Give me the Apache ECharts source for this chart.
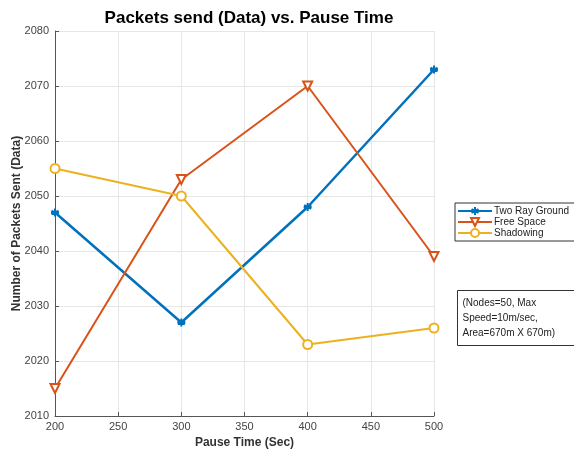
<!DOCTYPE html>
<html><head><meta charset="utf-8">
<script src="https://cdn.jsdelivr.net/npm/echarts@6/dist/echarts.min.js"></script>
<style>html,body{margin:0;padding:0;background:#fff}#c{width:574px;height:452px}</style>
</head><body><div id="c"></div>
<script>
const pauseTimes = [200, 300, 400, 500];
const twoRayGround = [2047, 2027, 2048, 2073];
const freeSpace = [2015, 2053, 2070, 2039];
const shadowing = [2055, 2050, 2023, 2026];
const seriesNames = ['Two Ray Ground', 'Free Space', 'Shadowing'];
const noteLines = ['(Nodes=50, Max', 'Speed=10m/sec,', 'Area=670m X 670m)'];

const FONT = '"Liberation Sans", Arial, sans-serif';
const chart = echarts.init(document.getElementById('c'));
const pair = arr => pauseTimes.map((x, i) => [x, arr[i]]);
const asterisk = 'path://M0,-5L0,5M-4.33,-2.5L4.33,2.5M-4.33,2.5L4.33,-2.5M-5,0L5,0';

chart.setOption({
  animation: false,
  backgroundColor: '#fff',
  title: {
    text: 'Packets send (Data) vs. Pause Time',
    left: 244, textAlign: 'center', top: 5,
    textStyle: {fontFamily: FONT, fontSize: 17, fontWeight: 'bold', color: '#000'}
  },
  grid: {left: 55, right: 140, top: 31, bottom: 36, containLabel: false, outerBoundsMode: 'none'},
  xAxis: {
    type: 'value', min: 200, max: 500, interval: 50,
    name: 'Pause Time (Sec)', nameLocation: 'middle', nameGap: 21,
    nameTextStyle: {fontFamily: FONT, fontSize: 12, fontWeight: 'bold', color: '#333'},
    axisLine: {onZero: false, lineStyle: {color: '#555', width: 1}},
    axisTick: {inside: true, length: 4, lineStyle: {color: '#555'}},
    axisLabel: {fontFamily: FONT, fontSize: 11, color: '#444', margin: 5},
    splitLine: {show: true, lineStyle: {color: '#e6e6e6'}}
  },
  yAxis: {
    type: 'value', min: 2010, max: 2080, interval: 10,
    name: 'Number of Packets Sent (Data)', nameLocation: 'middle', nameGap: 32, nameRotate: 90,
    nameMoveOverlap: false,
    nameTextStyle: {fontFamily: FONT, fontSize: 12, fontWeight: 'bold', color: '#333'},
    axisLine: {show: true, onZero: false, lineStyle: {color: '#555', width: 1}},
    axisTick: {show: true, inside: true, length: 4, lineStyle: {color: '#555'}},
    axisLabel: {fontFamily: FONT, fontSize: 11, color: '#444', margin: 6, formatter: v => String(v)},
    splitLine: {show: true, lineStyle: {color: '#e6e6e6'}}
  },
  legend: {
    orient: 'vertical', left: 455, top: 203,
    data: seriesNames,
    backgroundColor: '#fff', borderColor: '#333', borderWidth: 1,
    padding: [3, 10, 3, 2], itemGap: 1, itemWidth: 34, itemHeight: 10,
    textStyle: {fontFamily: FONT, fontSize: 10, color: '#222', padding: [0, 0, 0, -3]}
  },
  series: [
    {name: seriesNames[0], type: 'line', data: pair(twoRayGround), color: '#0072BD',
     symbol: asterisk, symbolSize: 8,
     itemStyle: {color: '#0072BD', borderColor: '#0072BD', borderWidth: 2},
     lineStyle: {color: '#0072BD', width: 2.5}},
    {name: seriesNames[1], type: 'line', data: pair(freeSpace), color: '#D95319',
     symbol: 'emptyTriangle', symbolRotate: 180, symbolSize: 9,
     itemStyle: {color: '#D95319', borderWidth: 2},
     lineStyle: {color: '#D95319', width: 2}},
    {name: seriesNames[2], type: 'line', data: pair(shadowing), color: '#EDB120',
     symbol: 'emptyCircle', symbolSize: 9,
     itemStyle: {color: '#EDB120', borderWidth: 2},
     lineStyle: {color: '#EDB120', width: 2}}
  ],
  graphic: [{
    type: 'group', left: 457, top: 290,
    children: [
      {type: 'rect', shape: {x: 0, y: 0, width: 120, height: 55},
       style: {fill: '#fff', stroke: '#333', lineWidth: 1}},
      {type: 'text', x: 5, y: 5,
       style: {text: noteLines.join('\n'), font: '10px ' + FONT, fill: '#222', lineHeight: 15}}
    ]
  }]
});
</script></body></html>
